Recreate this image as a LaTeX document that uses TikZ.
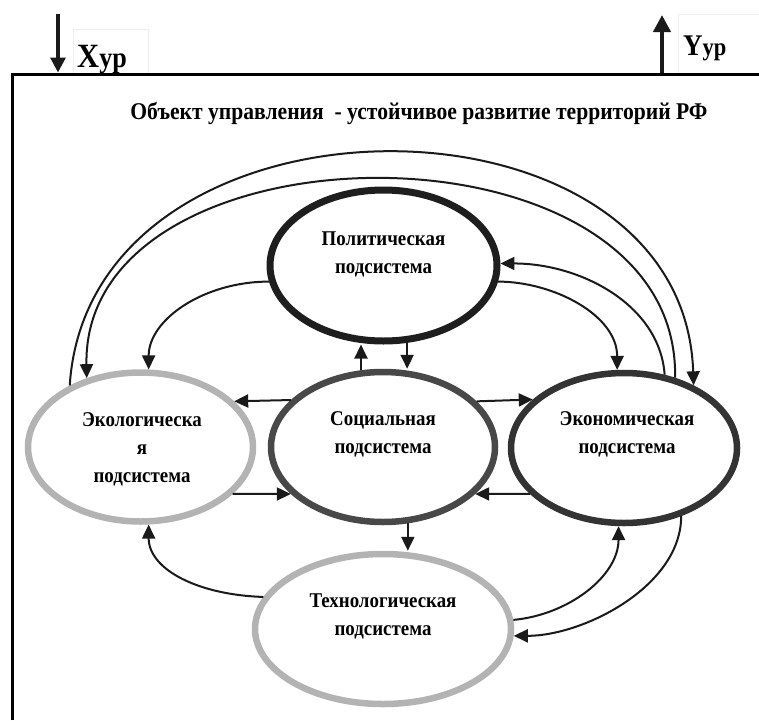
\documentclass[tikz,border=0pt]{standalone}
\usepackage{fontspec}
\setmainfont{Liberation Serif}[FakeStretch=0.9]
\usetikzlibrary{arrows.meta,shapes.geometric}
\definecolor{polc}{HTML}{1E1E1E}
\definecolor{socc}{HTML}{484848}
\definecolor{ecnc}{HTML}{333333}
\definecolor{grc}{HTML}{B3B3B3}
\definecolor{arrc}{HTML}{1A1A1A}
\definecolor{boxc}{HTML}{EEEEEE}
\begin{document}
\begin{tikzpicture}[x=1pt,y=-1pt,
  ell/.style={ellipse, line width=6.5pt, inner sep=0pt},
  lab/.style={font=\bfseries\fontsize{21}{28}\selectfont, align=center, inner sep=0pt},
  arr/.style={draw=arrc, line width=2pt, -{Triangle[length=14pt,width=13pt]}},
  bigarr/.style={draw=arrc, line width=3.2pt, -{Triangle[length=15pt,width=15pt]}},
  bigarrY/.style={draw=arrc, line width=4pt, -{Triangle[length=17pt,width=17pt]}},
  frame/.style={draw=black, line width=3pt},
  faint/.style={draw=boxc, line width=0.6pt}]
\useasboundingbox (0,0) rectangle (759,720);
% faint text boxes
\draw[faint] (73,29) rectangle (148,74);
\draw[faint] (678,14) rectangle (759,74);
% frame
\coordinate (fbl) at (12,720);
\coordinate (ftl) at (12,74);
\coordinate (ftr) at (759,74);
\draw[frame] (fbl) -- (ftl) -- (ftr);
% input / output arrows
\coordinate (xa) at (58,14);
\coordinate (xb) at (58,72.5);
\draw[bigarr] (xa) -- (xb);
\coordinate (ya) at (662,72.5);
\coordinate (yb) at (662,15);
\draw[bigarrY] (ya) -- (yb);
\node[anchor=base west, inner sep=0pt] (xl) at (77,67) {\bfseries\fontsize{34}{34}\selectfont X\fontsize{29}{29}\selectfont ур};
\node[anchor=base west, inner sep=0pt] (yl) at (683,55) {\bfseries\fontsize{30}{30}\selectfont Y\fontsize{25}{25}\selectfont ур};
% title
\node[font=\bfseries\fontsize{24}{28}\selectfont, inner sep=0pt] (title) at (419,113) {Объект управления\ \ - устойчивое развитие территорий РФ};
% ellipses
\node[ell, draw=polc, line width=7pt, minimum width=227pt, minimum height=151pt] (pol) at (383.5,265.5) {};
\node[ell, draw=socc, minimum width=224pt, minimum height=150pt] (soc) at (383,447) {};
\node[ell, draw=grc, minimum width=225pt, minimum height=149pt] (eco) at (140.5,447) {};
\node[ell, draw=ecnc, minimum width=226pt, minimum height=150pt] (ecn) at (624,448) {};
\node[ell, draw=grc, minimum width=256pt, minimum height=150pt] (tec) at (383,629) {};
% labels
\node[lab] (polT) at (383.5,254) {Политическая\\подсистема};
\node[lab] (socT) at (383,434) {Социальная\\подсистема};
\node[lab] (ecoT) at (142,449) {Экологическа\\я\\подсистема};
\node[lab] (ecnT) at (627,434) {Экономическая\\подсистема};
\node[lab] (tecT) at (383,616) {Технологическая\\подсистема};
% straight connectors
\draw[arr] (soc.106.7) -- (soc.106.7 |- pol.south);
\draw[arr] (pol.-73.1) -- (pol.-73.1 |- soc.north);
\draw[arr] (soc.153.3) -- (eco.26.6);
\draw[arr] (eco.-27.5) -- (soc.207.5);
\draw[arr] (soc.26.7) -- (ecn.152.7);
\draw[arr] (ecn.206.5) -- (soc.-27.5);
\draw[arr] (soc.-72.6) -- (soc.-72.6 |- tec.north);
% curved connectors
\draw[arr] (pol.188.1) .. controls +(-65,0) and +(0,-50) .. (eco.84.3);
\draw[arr] (pol.-8.1) .. controls +(55,0) and +(0,-55) .. (ecn.95.3);
\draw[arr] (ecn.61) .. controls +(-5,-70) and +(80,0) .. (pol.1);
\draw[arr] (eco.139.8) .. controls +(20,-310) and +(-10,-310) .. (ecn.42.4);
\draw[arr] (ecn.54.1) .. controls +(5,-267) and +(-5,-262) .. (eco.128.5);
\draw[arr] (tec.165.7) .. controls +(-65,-2) and +(0,45) .. (eco.-84.3);
\draw[arr] (tec.4.5) .. controls +(55,-5) and +(0,50) .. (ecn.-94.6);
\draw[arr] (ecn.-50.7) .. controls +(0,70) and +(70,0) .. (tec.-3);
\end{tikzpicture}
\end{document}
